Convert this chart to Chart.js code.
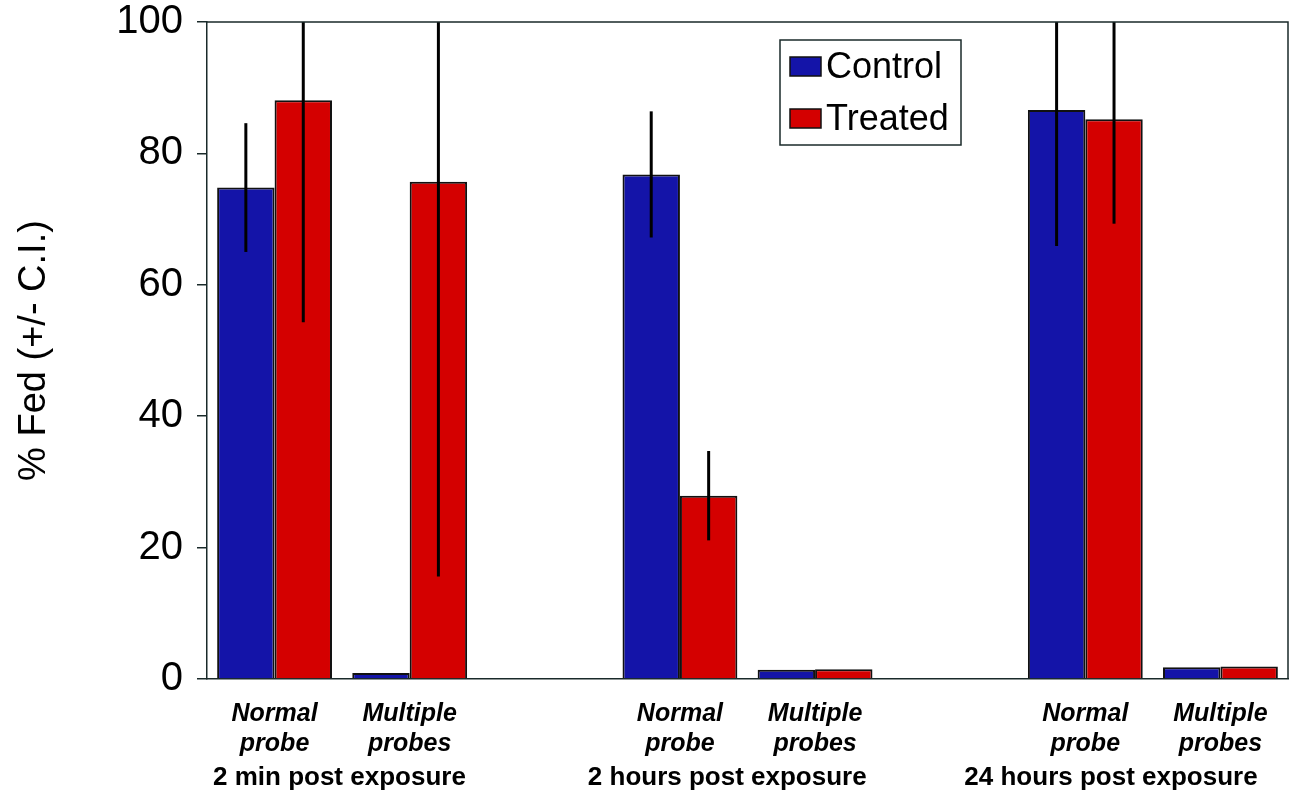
<!DOCTYPE html>
<html>
<head>
<meta charset="utf-8">
<script src="https://cdn.jsdelivr.net/npm/chart.js@4.4.1/dist/chart.umd.min.js"></script>
<style>
  html, body { margin: 0; padding: 0; background: #ffffff; }
  #wrap { width: 1292px; height: 792px; }
</style>
</head>
<body>
<div id="wrap"><canvas id="c" width="1292" height="792"></canvas></div>
<script>
// Feeding success by probe type and time after exposure
const categoryLabels = [
  ["Normal", "probe"], ["Multiple", "probes"], "",
  ["Normal", "probe"], ["Multiple", "probes"], "",
  ["Normal", "probe"], ["Multiple", "probes"]
];
const groupLabels = ["2 min post exposure", "2 hours post exposure", "24 hours post exposure"];
const seriesNames = ["Control", "Treated"];

const controlFed = [74.8, 0.9, null, 76.8, 1.4, null, 86.6, 1.8];
const treatedFed = [88.1, 75.7, null, 27.9, 1.5, null, 85.2, 1.9];
const controlCI  = [9.8, 0, null, 9.6, 0, null, 20.7, 0];
const treatedCI  = [33.8, 60.1, null, 6.8, 0, null, 15.9, 0];

const yTicks = [0, 20, 40, 60, 80, 100];

const FONT = "'Liberation Sans', Arial, sans-serif";

// vertical confidence-interval lines through the centre of each bar
const errorBars = {
  id: 'errorBars',
  afterDatasetsDraw(chart) {
    const { ctx, chartArea, scales: { y } } = chart;
    const ciSets = [controlCI, treatedCI];
    ctx.save();
    ctx.beginPath();
    ctx.rect(chartArea.left, chartArea.top, chartArea.right - chartArea.left, chartArea.bottom - chartArea.top);
    ctx.clip();
    ctx.strokeStyle = '#000';
    ctx.lineWidth = 3;
    chart.data.datasets.forEach((ds, di) => {
      const meta = chart.getDatasetMeta(di);
      meta.data.forEach((bar, i) => {
        const v = ds.data[i];
        const ci = ciSets[di][i];
        if (v == null || !ci) return;
        ctx.beginPath();
        ctx.moveTo(bar.x, y.getPixelForValue(v + ci));
        ctx.lineTo(bar.x, y.getPixelForValue(v - ci));
        ctx.stroke();
      });
    });
    ctx.restore();
  }
};

// top and right edges of the plot frame
const plotFrame = {
  id: 'plotFrame',
  afterDraw(chart) {
    const { ctx, chartArea: a } = chart;
    ctx.save();
    ctx.strokeStyle = '#1a2a2a';
    ctx.lineWidth = 1.5;
    ctx.beginPath();
    ctx.moveTo(a.left, a.top);
    ctx.lineTo(a.right, a.top);
    ctx.lineTo(a.right, a.bottom);
    ctx.stroke();
    ctx.restore();
  }
};

// time-point captions under each pair of categories, placed on the x scale
const groupCaptions = {
  id: 'groupCaptions',
  afterDraw(chart) {
    const { ctx, scales: { x } } = chart;
    const at = [0.48, 3.35, 6.19];
    ctx.save();
    ctx.font = 'bold 26px ' + FONT;
    ctx.fillStyle = '#000';
    ctx.textAlign = 'center';
    ctx.textBaseline = 'middle';
    groupLabels.forEach((t, i) => {
      ctx.fillText(t, x.getPixelForValue(at[i]), x.bottom - 14);
    });
    ctx.restore();
  }
};

// boxed legend sitting inside the plot area
const insideLegend = {
  id: 'insideLegend',
  afterDraw(chart) {
    const { ctx, chartArea: a } = chart;
    const x0 = a.left + 573, y0 = a.top + 18, w = 181, h = 105;
    ctx.save();
    ctx.fillStyle = '#fff';
    ctx.fillRect(x0, y0, w, h);
    ctx.strokeStyle = '#1a2a2a';
    ctx.lineWidth = 1.5;
    ctx.strokeRect(x0, y0, w, h);
    ctx.font = '36px ' + FONT;
    ctx.textBaseline = 'middle';
    chart.data.datasets.forEach((ds, i) => {
      const cy = y0 + 27 + i * 52;
      ctx.fillStyle = ds.backgroundColor;
      ctx.fillRect(x0 + 10, cy - 10, 31, 19);
      ctx.strokeStyle = '#111';
      ctx.lineWidth = 1.5;
      ctx.strokeRect(x0 + 10, cy - 10, 31, 19);
      ctx.fillStyle = '#000';
      ctx.fillText(ds.label, x0 + 46, cy + 1);
    });
    ctx.restore();
  }
};

new Chart(document.getElementById('c'), {
  type: 'bar',
  data: {
    labels: categoryLabels,
    datasets: [
      { label: seriesNames[0], data: controlFed, backgroundColor: '#1414a8', borderColor: '#111', borderWidth: 2 },
      { label: seriesNames[1], data: treatedFed, backgroundColor: '#d40000', borderColor: '#111', borderWidth: 2 }
    ]
  },
  options: {
    responsive: false,
    animation: false,
    categoryPercentage: 0.85,
    barPercentage: 1.0,
    layout: { padding: { top: 22, right: 4, left: 0, bottom: 0 } },
    plugins: { legend: { display: false }, tooltip: { enabled: false } },
    scales: {
      y: {
        min: 0, max: 100,
        afterBuildTicks: ax => { ax.ticks = yTicks.map(v => ({ value: v })); },
        afterFit: s => { s.width = 207; s.paddingTop = 0; s.paddingBottom = 0; },
        ticks: { font: { family: FONT, size: 40 }, color: '#000', padding: 14 },
        grid: { drawOnChartArea: false, drawTicks: true, tickLength: 10, color: '#1a2a2a', lineWidth: 1.5 },
        border: { display: true, color: '#1a2a2a', width: 1.5 },
        title: { display: true, text: '% Fed (+/- C.I.)', font: { family: FONT, size: 38 }, color: '#000', padding: { top: 12, bottom: 0 } }
      },
      x: {
        afterFit: s => { s.height = 113; s.paddingLeft = 0; s.paddingRight = 0; },
        ticks: { font: { family: FONT, size: 25, style: 'italic', weight: 'bold' }, lineHeight: 1.32, color: '#000', padding: 12, maxRotation: 0, autoSkip: false },
        grid: { display: false },
        border: { display: true, color: '#1a2a2a', width: 1.5 }
      }
    }
  },
  plugins: [errorBars, plotFrame, groupCaptions, insideLegend]
});
</script>
</body>
</html>
